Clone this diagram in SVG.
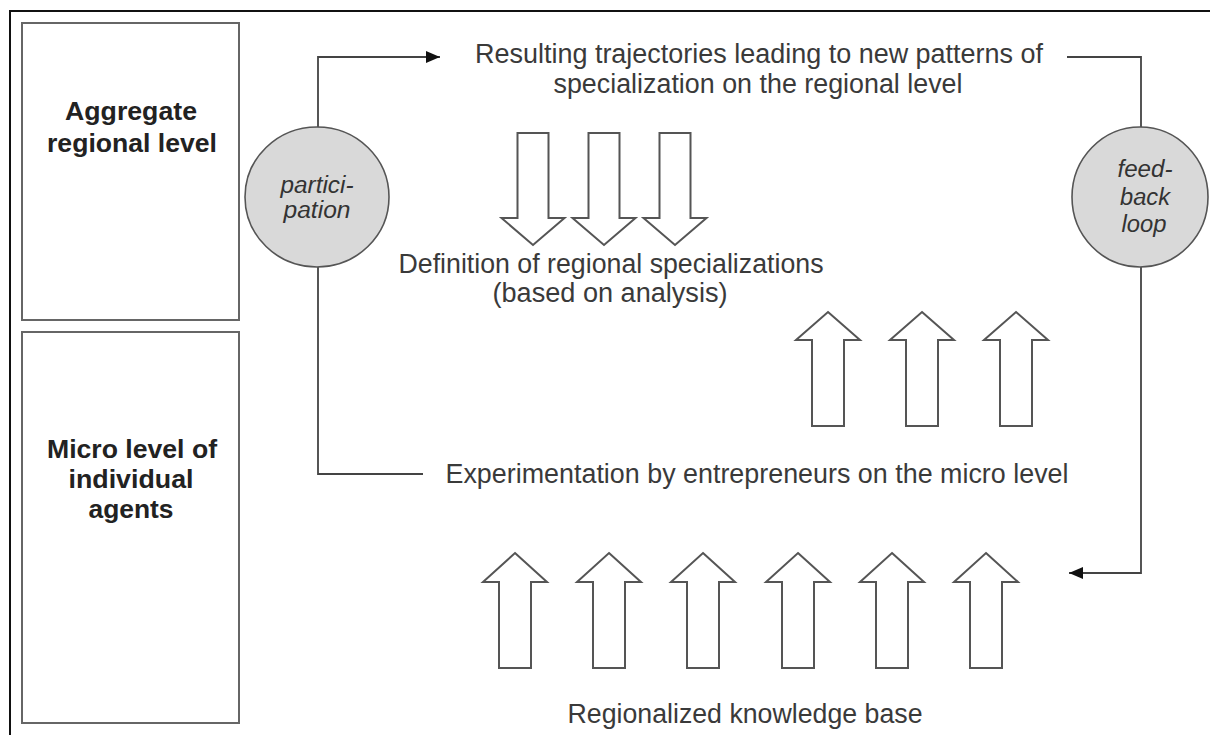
<svg xmlns="http://www.w3.org/2000/svg" xmlns:xlink="http://www.w3.org/1999/xlink" width="1210" height="735" viewBox="0 0 1210 735">
<style>
.box{fill:#fff;stroke:#666;stroke-width:2}
.lvl{font-family:"Liberation Sans",Arial,sans-serif;font-weight:bold;font-size:26px;fill:#222;text-anchor:middle}
.lbl{font-family:"Liberation Sans",Arial,sans-serif;font-size:27px;fill:#3a3a3a;text-anchor:middle}
.circ{fill:#d9d9d9;stroke:#555;stroke-width:1.6}
.ct{font-family:"Liberation Sans",Arial,sans-serif;font-style:italic;font-size:23px;fill:#333;text-anchor:middle}
.blk{fill:#fff;stroke:#555;stroke-width:2;stroke-linejoin:miter}
.con{fill:none;stroke:#444;stroke-width:1.8}
</style>
<defs>
<marker id="ah" viewBox="0 0 14 12" refX="14" refY="6" markerWidth="14" markerHeight="12" markerUnits="userSpaceOnUse" orient="auto">
<path d="M0,0 L14,6 L0,12 Z" fill="#111"/>
</marker>
<path id="down" class="blk" d="M-15.5,0 H15.5 V85 H31.5 L0,112 L-31.5,85 H-15.5 Z"/>
<path id="up" class="blk" d="M0,0 L32,28 H16 V114 H-16 V28 H-32 Z"/>
<path id="upb" class="blk" d="M0,0 L32,29 H16 V115 H-16 V29 H-32 Z"/>
</defs>
<rect width="1210" height="735" fill="#fff"/>
<path d="M10,735 V11 H1210" fill="none" stroke="#111" stroke-width="2"/>

<g id="aggregate-level">
<rect class="box" x="22" y="23" width="217" height="297"/>
<text class="lvl" x="131" y="120" textLength="132" lengthAdjust="spacingAndGlyphs">Aggregate</text>
<text class="lvl" x="132" y="152" textLength="170" lengthAdjust="spacingAndGlyphs">regional level</text>
</g>
<g id="micro-level">
<rect class="box" x="22" y="332" width="217" height="391"/>
<text class="lvl" x="132" y="458" textLength="170" lengthAdjust="spacingAndGlyphs">Micro level of</text>
<text class="lvl" x="131" y="488" textLength="125" lengthAdjust="spacingAndGlyphs">individual</text>
<text class="lvl" x="131" y="518" textLength="85" lengthAdjust="spacingAndGlyphs">agents</text>
</g>

<g id="connectors">
<path class="con" d="M318,127 V57 H440" marker-end="url(#ah)"/>
<path class="con" d="M318,267 V474 H423"/>
<path class="con" d="M1067,57 H1141 V127"/>
<path class="con" d="M1141,267 V573 H1069" marker-end="url(#ah)"/>
</g>

<g id="participation">
<ellipse class="circ" cx="317" cy="197" rx="72" ry="70"/>
<text class="ct" x="317" y="193" textLength="73" lengthAdjust="spacingAndGlyphs">partici-</text>
<text class="ct" x="317" y="218" textLength="67" lengthAdjust="spacingAndGlyphs">pation</text>
</g>
<g id="feedback-loop">
<ellipse class="circ" cx="1140" cy="197" rx="68" ry="70"/>
<text class="ct" x="1145" y="177" textLength="55" lengthAdjust="spacingAndGlyphs">feed-</text>
<text class="ct" x="1145" y="205" textLength="50" lengthAdjust="spacingAndGlyphs">back</text>
<text class="ct" x="1144" y="232" textLength="45" lengthAdjust="spacingAndGlyphs">loop</text>
</g>

<g id="resulting-trajectories">
<text class="lbl" x="759" y="63" textLength="568" lengthAdjust="spacingAndGlyphs">Resulting trajectories leading to new patterns of</text>
<text class="lbl" x="758" y="93" textLength="409" lengthAdjust="spacingAndGlyphs">specialization on the regional level</text>
</g>
<g id="down-arrows">
<use xlink:href="#down" x="533" y="133"/>
<use xlink:href="#down" x="604" y="133"/>
<use xlink:href="#down" x="675" y="133"/>
</g>
<g id="definition">
<text class="lbl" x="611" y="273" textLength="425" lengthAdjust="spacingAndGlyphs">Definition of regional specializations</text>
<text class="lbl" x="610" y="302" textLength="235" lengthAdjust="spacingAndGlyphs">(based on analysis)</text>
</g>
<g id="mid-up-arrows">
<use xlink:href="#up" x="828" y="312"/>
<use xlink:href="#up" x="922" y="312"/>
<use xlink:href="#up" x="1016" y="312"/>
</g>
<g id="experimentation">
<text class="lbl" x="757" y="483" textLength="623" lengthAdjust="spacingAndGlyphs">Experimentation by entrepreneurs on the micro level</text>
</g>
<g id="bottom-up-arrows">
<use xlink:href="#upb" x="515" y="553"/>
<use xlink:href="#upb" x="609" y="553"/>
<use xlink:href="#upb" x="703" y="553"/>
<use xlink:href="#upb" x="798" y="553"/>
<use xlink:href="#upb" x="892" y="553"/>
<use xlink:href="#upb" x="986" y="553"/>
</g>
<g id="knowledge-base">
<text class="lbl" x="745" y="723" textLength="355" lengthAdjust="spacingAndGlyphs">Regionalized knowledge base</text>
</g>
</svg>
